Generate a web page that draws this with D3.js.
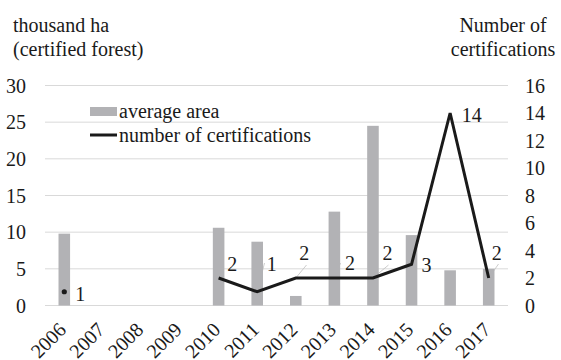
<!DOCTYPE html>
<html>
<head>
<meta charset="utf-8">
<script src="https://cdn.jsdelivr.net/npm/d3@7"></script>
</head>
<body style="margin:0">
<svg id="chart" width="561" height="360"></svg>
<script>
// Forest certification data by year
const years = ["2006", "2007", "2008", "2009", "2010", "2011", "2012", "2013", "2014", "2015", "2016", "2017"];
const averageArea = [9.8, null, null, null, 10.6, 8.7, 1.3, 12.8, 24.5, 9.6, 4.8, 5.0];   // thousand ha
const certifications = [1, null, null, null, 2, 1, 2, 2, 2, 3, 14, 2];                    // count
const leftTicks = [0, 5, 10, 15, 20, 25, 30];
const rightTicks = [0, 2, 4, 6, 8, 10, 12, 14, 16];

// Label placement (offsets from each point, px) and optional leader-line ends
const labelLayout = [
  { dx: 16, dy: 2 }, null, null, null,
  { dx: 13.5, dy: -14 },
  { dx: 14.5, dy: -27.5, lx: 264.5, ly: 263 },
  { dx: 8.5, dy: -25, lx: 306.5, ly: 265 },
  { dx: 15.5, dy: -15.5, lx: 340.5, ly: 263 },
  { dx: 14.5, dy: -25.5, lx: 388.5, ly: 265 },
  { dx: 15, dy: 1 },
  { dx: 21.5, dy: 2 },
  { dx: 8, dy: -25.5, lx: 498.5, ly: 264 }
];

const FONT = 20;
const INK = "#1a1a1a";
const svg = d3.select("#chart");
const plotLeft = 45, plotRight = 508, plotTop = 85.5, plotBottom = 305.5;

// Shared text styling
function styled(sel) {
  return sel.attr("font-family", "Liberation Serif").attr("font-size", FONT).attr("fill", INK);
}

const x = d3.scaleBand().domain(years).range([plotLeft, plotRight])
  .paddingInner(0.7).paddingOuter(0.35);
const cx = d => x(d) + x.bandwidth() / 2;
const yL = d3.scaleLinear().domain([0, 30]).range([plotBottom, plotTop]);
const yR = d3.scaleLinear().domain([0, 16]).range([plotBottom, plotTop]);

// Axis titles
svg.append("text").call(styled).attr("x", 13).attr("y", 32).text("thousand ha");
svg.append("text").call(styled).attr("x", 13).attr("y", 56).text("(certified forest)");
svg.append("text").call(styled).attr("x", 503).attr("y", 32).attr("text-anchor", "middle").text("Number of");
svg.append("text").call(styled).attr("x", 503).attr("y", 56).attr("text-anchor", "middle").text("certifications");

// Gridlines
svg.append("g").selectAll("line").data(leftTicks).join("line")
  .attr("x1", plotLeft).attr("x2", plotRight)
  .attr("y1", d => yL(d)).attr("y2", d => yL(d))
  .attr("stroke", "#d9d9d9").attr("stroke-width", 1);

// Left axis labels
svg.append("g").selectAll("text").data(leftTicks).join("text")
  .call(styled)
  .attr("x", 26).attr("y", d => yL(d) + 7)
  .attr("text-anchor", "end")
  .text(d => d);

// Right axis labels
svg.append("g").selectAll("text").data(rightTicks).join("text")
  .call(styled)
  .attr("x", 525).attr("y", d => yR(d) + 7)
  .attr("text-anchor", "start")
  .text(d => d);

// Leader lines (drawn under the bars)
const rows = years.map((yr, i) => ({ yr, area: averageArea[i], count: certifications[i], lay: labelLayout[i] }));
svg.append("g").selectAll("line")
  .data(rows.filter(r => r.count != null && r.lay && r.lay.lx != null)).join("line")
  .attr("x1", r => cx(r.yr)).attr("y1", r => yR(r.count))
  .attr("x2", r => r.lay.lx).attr("y2", r => r.lay.ly)
  .attr("stroke", "#bfbfbf").attr("stroke-width", 0.8);

// Bars: average area
svg.append("g").selectAll("rect").data(rows.filter(r => r.area != null)).join("rect")
  .attr("x", r => x(r.yr)).attr("width", x.bandwidth())
  .attr("y", r => yL(r.area)).attr("height", r => yL(0) - yL(r.area))
  .attr("fill", "#b2b2b5");

// Line: number of certifications
const line = d3.line().defined(r => r.count != null)
  .x(r => cx(r.yr)).y(r => yR(r.count));
svg.append("path").datum(rows.slice(4))
  .attr("d", line).attr("fill", "none")
  .attr("stroke", INK).attr("stroke-width", 3).attr("stroke-linejoin", "miter");

// Isolated point (2006)
svg.append("circle").attr("cx", cx(years[0])).attr("cy", yR(certifications[0]))
  .attr("r", 2.6).attr("fill", INK);

// Data labels
svg.append("g").selectAll("text").data(rows.filter(r => r.count != null)).join("text")
  .call(styled)
  .attr("x", r => cx(r.yr) + r.lay.dx).attr("y", r => yR(r.count) + r.lay.dy + 7)
  .attr("text-anchor", "middle")
  .text(r => r.count);

// X axis labels, rotated
svg.append("g").selectAll("text").data(years).join("text")
  .call(styled)
  .attr("transform", d => `translate(${cx(d) + 3},331) rotate(-45)`)
  .attr("text-anchor", "end")
  .text(d => d);

// Legend
const legend = svg.append("g");
legend.append("rect").attr("x", 90).attr("y", 107).attr("width", 27).attr("height", 9).attr("fill", "#b2b2b5");
legend.append("text").call(styled).attr("x", 119).attr("y", 117.5).text("average area");
legend.append("line").attr("x1", 90).attr("x2", 117).attr("y1", 135).attr("y2", 135)
  .attr("stroke", INK).attr("stroke-width", 3);
legend.append("text").call(styled).attr("x", 119).attr("y", 141.5).text("number of certifications");
</script>
</body>
</html>
